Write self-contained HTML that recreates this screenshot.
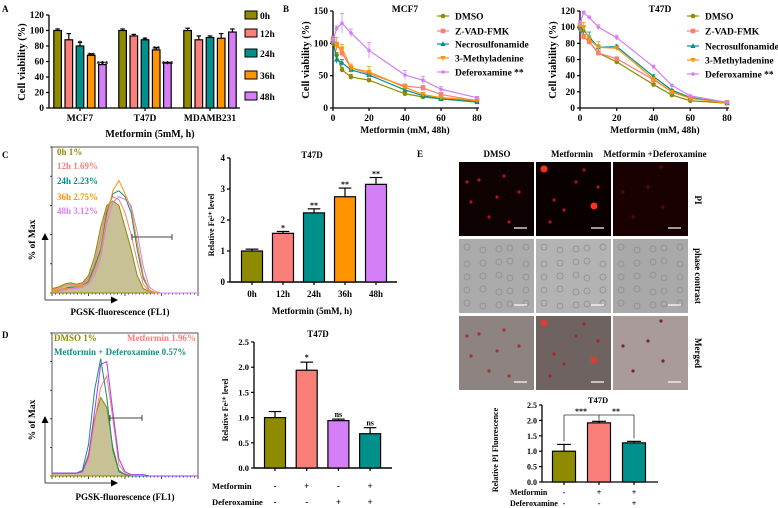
<!DOCTYPE html>
<html><head><meta charset="utf-8"><style>
html,body{margin:0;padding:0;background:#fff;}
svg{display:block;font-family:"Liberation Serif",serif;font-weight:bold;}
</style></head><body>
<svg id="fig" width="778" height="508" viewBox="0 0 778 508" xmlns="http://www.w3.org/2000/svg">
<g fill="#000" font-size="10">
<text x="2" y="12" font-size="9">A</text>
<text x="283" y="12" font-size="9">B</text>
<text x="2" y="158" font-size="9">C</text>
<text x="2" y="338" font-size="9">D</text>
<text x="417" y="157" font-size="9">E</text>
<text transform="translate(25,62) rotate(-90)" text-anchor="middle" font-size="10.5">Cell  viability (%)</text>
<text x="150" y="137" text-anchor="middle" font-size="10">Metformin  (5mM, h)</text>
<text transform="translate(309,60) rotate(-90)" text-anchor="middle" font-size="10.5">Cell  viability (%)</text>
<text x="405" y="12" text-anchor="middle" font-size="9.5">MCF7</text>
<text x="405" y="133" text-anchor="middle" font-size="9.5">Metformin (mM, 48h)</text>
<text transform="translate(556,60) rotate(-90)" text-anchor="middle" font-size="10.5">Cell  viability (%)</text>
<text x="660" y="12" text-anchor="middle" font-size="9.5">T47D</text>
<text x="655" y="133" text-anchor="middle" font-size="9.5">Metformin (mM, 48h)</text>
<text transform="translate(35,240) rotate(-90)" text-anchor="middle" font-size="9.5">% of  Max</text>
<text x="120" y="315" text-anchor="middle" font-size="9">PGSK-fluorescence (FL1)</text>
<text x="312" y="158" text-anchor="middle" font-size="9">T47D</text>
<text transform="translate(214,225) rotate(-90)" text-anchor="middle" font-size="8">Relative Fe²⁺ level</text>
<text x="312" y="314" text-anchor="middle" font-size="9">Metformin (5mM, h)</text>
<text transform="translate(35,420) rotate(-90)" text-anchor="middle" font-size="9.5">% of  Max</text>
<text x="125" y="500" text-anchor="middle" font-size="9">PGSK-fluorescence (FL1)</text>
<text x="318" y="337" text-anchor="middle" font-size="9">T47D</text>
<text transform="translate(228,410) rotate(-90)" text-anchor="middle" font-size="8">Relative Fe²⁺ level</text>
<text x="497" y="157" text-anchor="middle" font-size="9">DMSO</text>
<text x="572" y="157" text-anchor="middle" font-size="9">Metformin</text>
<text x="655" y="157" text-anchor="middle" font-size="9">Metformin +Deferoxamine</text>
<text transform="translate(695,200) rotate(90)" text-anchor="middle" font-size="9">PI</text>
<text transform="translate(695,276) rotate(90)" text-anchor="middle" font-size="9">phase contrast</text>
<text transform="translate(695,353) rotate(90)" text-anchor="middle" font-size="9">Merged</text>
<text x="598" y="403" text-anchor="middle" font-size="8.5">T47D</text>
<text transform="translate(498,450) rotate(-90)" text-anchor="middle" font-size="8">Relative  PI Fluorescence</text>
</g>
<g id="root"></g>
</svg>
<script>
// ---- Panel A data ----
const aGroups = ['MCF7','T47D','MDAMB231'];
const aSeries = ['0h','12h','24h','36h','48h'];
const aMCF7 = [100, 88, 80, 68, 56];
const aT47D = [100, 93, 88, 75, 58];
const aMDA = [100, 88, 91, 90, 98];
const aErrMCF7 = [2, 8, 5, 2, 3];
const aErrT47D = [2, 2, 2, 3, 1];
const aErrMDA = [3, 5, 2, 6, 4];
const aStarsMCF7 = ['', '', '*', '**', '***'];
const aStarsT47D = ['', '', '*', '**', '***'];
const aStarsMDA = ['', '', '', '', ''];
const aTicks = [0, 20, 40, 60, 80, 100, 120];
// ---- Panel B data ----
const bDoses = [0, 2, 5, 10, 20, 40, 50, 60, 80];
const bNames = ['DMSO','Z-VAD-FMK','Necrosulfonamide','3-Methyladenine','Deferoxamine'];
const bMcfDMSO = [100, 82, 59, 48, 43, 22, 17, 14, 11];
const bMcfZVAD = [105, 99, 85, 62, 53, 34, 31, 21, 11];
const bMcfNecro = [105, 75, 70, 59, 51, 28, 19, 14, 9];
const bMcfMA = [105, 95, 92, 62, 56, 32, 21, 16, 12];
const bMcfDef = [105, 123, 131, 116, 89, 51, 43, 29, 16];
const bT47DMSO = [98, 88, 82, 68, 57, 29, 16, 9, 6];
const bT47ZVAD = [100, 88, 82, 68, 61, 35, 20, 12, 7];
const bT47Necro = [100, 96, 88, 75, 76, 39, 22, 13, 6];
const bT47MA = [102, 100, 85, 75, 74, 36, 20, 12, 6];
const bT47Def = [105, 118, 112, 100, 87, 51, 28, 15, 7];
const bXTicks = [0, 20, 40, 60, 80];
const bMcfYTicks = [0, 50, 100, 150];
const bT47YTicks = [0, 20, 40, 60, 80, 100, 120];
// ---- Panel C data ----
const cHistOlive = [3,4,6,7,6,7,12,25,45,60,63,60,45,30,12,3,1,0,0,0,0,0,0,0,0];
const cHistSalmon = [2,3,5,6,5,6,10,20,38,58,66,64,55,40,22,6,1,0,0,0,0,0,0,0,0];
const cHistTeal = [1,2,3,4,4,5,8,18,30,55,68,70,66,55,30,10,2,0,0,0,0,0,0,0,0];
const cHistOrange = [1,2,3,3,4,5,7,15,28,52,70,77,68,58,35,12,2,0,0,0,0,0,0,0,0];
const cHistViolet = [1,1,2,3,3,4,6,12,24,48,62,66,64,60,42,18,4,1,0,0,0,0,0,0,0];
const cBarCats = ['0h','12h','24h','36h','48h'];
const cBarVals = [1.0, 1.57, 2.23, 2.75, 3.15];
const cBarErr = [0.06, 0.06, 0.13, 0.28, 0.22];
const cBarStars = ['', '*', '**', '**', '**'];
const cBarTicks = [0, 1, 2, 3, 4];
// ---- Panel D data ----
const dHistOlive = [2,2,2,2,2,3,15,40,55,48,20,4,1,0,0,0,0,0,0,0,0,0,0,0,0];
const dHistSalmon = [2,2,2,2,2,3,12,38,62,70,40,8,2,0,0,0,0,0,0,0,0,0,0,0,0];
const dHistTeal = [2,2,2,2,2,4,22,60,82,55,18,3,1,0,0,0,0,0,0,0,0,0,0,0,0];
const dHistViolet = [2,2,2,2,2,3,14,45,78,80,45,12,3,1,1,1,0,0,0,0,0,0,0,0,0];
const dBarVals = [1.0, 1.94, 0.94, 0.68];
const dBarErr = [0.12, 0.16, 0.03, 0.12];
const dBarStars = ['', '*', 'ns', 'ns'];
const dMet = ['-', '+', '-', '+'];
const dDef = ['-', '-', '+', '+'];
const dBarTicks = [0, 0.5, 1.0, 1.5, 2.0, 2.5];
// ---- Panel E data ----
const eBarVals = [1.0, 1.92, 1.27];
const eBarErr = [0.22, 0.05, 0.05];
const eMet = ['-', '+', '+'];
const eDef = ['-', '-', '+'];
const eBarTicks = [0, 0.5, 1.0, 1.5, 2.0, 2.5];

const NS = 'http://www.w3.org/2000/svg';
const root = document.getElementById('root');
const COL = ['#8e8b00', '#fa7f78', '#00908c', '#ff9300', '#d47ef7'];
function el(tag, attrs, name) {
  const e = document.createElementNS(NS, tag);
  for (const k in attrs) e.setAttribute(k, attrs[k]);
  
  
  root.appendChild(e);
  return e;
}
function txt(x, y, s, size, anchor, fill, name) {
  const t = el('text', {x: x, y: y, 'font-size': size, 'text-anchor': anchor || 'middle', fill: fill || '#000'}, name);
  t.textContent = s;
  return t;
}
function line(x1, y1, x2, y2, name, w, c) {
  return el('line', {x1: x1, y1: y1, x2: x2, y2: y2, stroke: c || '#000', 'stroke-width': w || 1}, name);
}
function yAxis(x, y0, y1, vmax, ticks, labels, name, size) {
  line(x, y0, x, y1, name + '-line', 1.3);
  ticks.forEach((t, i) => {
    const y = y0 - (y0 - y1) * t / vmax;
    line(x - 3, y, x, y, name + '-tick', 1.2);
    txt(x - 5, y + 3, labels[i], size || 9, 'end', '#000', name + '-tick-label');
  });
}
function bar(cx, w, y0, scale, v, err, color, name) {
  const top = y0 - v * scale;
  const eTop = top - err * scale;
  line(cx, top, cx, eTop, name + '-error', 1.2);
  line(cx - w * 0.3, eTop, cx + w * 0.3, eTop, name + '-error-cap', 1.2);
  el('rect', {x: cx - w / 2, y: top, width: w, height: v * scale, fill: color, stroke: '#000', 'stroke-width': 1.2}, name);
  return eTop;
}

// ===== Panel A =====
(function () {
  const y0 = 108, sc = 93 / 120, x0 = 49;
  const vals = [aMCF7, aT47D, aMDA], errs = [aErrMCF7, aErrT47D, aErrMDA], stars = [aStarsMCF7, aStarsT47D, aStarsMDA];
  const gx = [80, 145, 210];
  yAxis(x0, y0, y0 - 120 * sc, 120, aTicks, aTicks.map(String), 'a-y-axis', 9.5);
  line(x0, y0, 240, y0, 'a-x-axis', 1.3);
  aGroups.forEach((g, gi) => {
    line(gx[gi], y0, gx[gi], y0 + 3, 'a-x-tick', 1.2);
    txt(gx[gi], y0 + 13, g, 9.5, 'middle', '#000', 'a-x-tick-label');
    vals[gi].forEach((v, i) => {
      const cx = gx[gi] + (i - 2) * 11.2;
      const t = bar(cx, 7.6, y0, sc, v, errs[gi][i], COL[i], 'a-bar-' + g + '-' + aSeries[i]);
      if (stars[gi][i]) txt(cx, t + 4, stars[gi][i], 8, 'middle', '#000', 'a-significance');
    });
  });
  aSeries.forEach((s, i) => {
    const y = [16, 34, 54, 76, 97][i];
    el('rect', {x: 245, y: y - 5, width: 12, height: 8, fill: COL[i], stroke: '#000', 'stroke-width': 1}, 'a-legend-swatch');
    txt(260, y + 3, s, 9.5, 'start', '#000', 'a-legend-label');
  });
})();

// ===== Panel B =====
function markerAt(x, y, k, c, name) {
  if (k === 0) el('circle', {cx: x, cy: y, r: 2.3, fill: c}, name);
  else if (k === 1) el('rect', {x: x - 2.3, y: y - 2.3, width: 4.6, height: 4.6, fill: c}, name);
  else if (k === 2) el('polygon', {points: `${x},${y - 2.8} ${x + 2.6},${y + 2} ${x - 2.6},${y + 2}`, fill: c}, name);
  else if (k === 3) el('polygon', {points: `${x},${y + 2.8} ${x + 2.6},${y - 2} ${x - 2.6},${y - 2}`, fill: c}, name);
  else el('circle', {cx: x, cy: y, r: 1.8, fill: c}, name);
}
function lineChart(p) {
  const xs = v => p.x0 + (p.x1 - p.x0) * v / 80;
  const ys = v => p.y0 - (p.y0 - p.y1) * v / p.vmax;
  yAxis(p.x0, p.y0, p.y1, p.vmax, p.yticks, p.yticks.map(String), p.id + '-y-axis', 9.5);
  line(p.x0, p.y0, p.x1 + 2, p.y0, p.id + '-x-axis', 1.3);
  bXTicks.forEach(t => {
    line(xs(t), p.y0, xs(t), p.y0 + 3, p.id + '-x-tick', 1.2);
    txt(xs(t), p.y0 + 13, String(t), 9.5, 'middle', '#000', p.id + '-x-tick-label');
  });
  p.series.forEach((s, k) => {
    const pts = s.map((v, i) => xs(bDoses[i]) + ',' + ys(v)).join(' ');
    el('polyline', {points: pts, fill: 'none', stroke: COL[k], 'stroke-width': 1.2}, p.id + '-line-' + bNames[k]);
    s.forEach((v, i) => {
      const e = p.errs[k][i] * (p.y0 - p.y1) / p.vmax;
      if (e > 0) {
        line(xs(bDoses[i]), ys(v) - e, xs(bDoses[i]), ys(v) + e, p.id + '-error', 0.8, COL[k]);
        line(xs(bDoses[i]) - 2, ys(v) - e, xs(bDoses[i]) + 2, ys(v) - e, p.id + '-error-cap', 0.8, COL[k]);
      }
      markerAt(xs(bDoses[i]), ys(v), k, COL[k], p.id + '-point-' + bNames[k]);
    });
  });
  bNames.forEach((n, k) => {
    const y = p.legY[k];
    line(p.legX - 6, y, p.legX + 6, y, p.id + '-legend-line', 1.2, COL[k]);
    markerAt(p.legX, y, k, COL[k], p.id + '-legend-marker');
    txt(p.legX + 12, y + 3.5, n + (k === 4 ? ' **' : ''), 9.5, 'start', '#000', p.id + '-legend-label');
  });
}
lineChart({id: 'b1', x0: 333, x1: 477, y0: 108, y1: 11, vmax: 150, yticks: bMcfYTicks,
  series: [bMcfDMSO, bMcfZVAD, bMcfNecro, bMcfMA, bMcfDef],
  errs: [[4,4,4,4,3,2,2,2,1],[5,10,6,4,4,3,4,3,2],[4,6,5,4,3,2,2,2,1],[5,6,6,6,8,3,3,2,1],[6,4,15,6,12,7,6,4,2]],
  legX: 443, legY: [16, 31, 44, 58, 72]});
lineChart({id: 'b2', x0: 580, x1: 727, y0: 108, y1: 11, vmax: 120, yticks: bT47YTicks,
  series: [bT47DMSO, bT47ZVAD, bT47Necro, bT47MA, bT47Def],
  errs: [[4,3,3,2,2,2,1,1,1],[4,3,4,3,2,2,1,1,1],[4,5,6,3,2,2,1,1,1],[5,6,5,7,2,2,1,1,1],[3,2,2,3,3,2,1,1,1]],
  legX: 693, legY: [16, 31, 46, 60, 74]});

// ===== Flow histograms =====
function flow(p) {
  el('rect', {x: p.x0, y: p.top, width: p.x1 - p.x0, height: p.y0 - p.top, fill: 'none', stroke: '#555', 'stroke-width': 1}, p.id + '-frame');
  for (let i = 0; i <= 40; i++) {
    const x = p.x0 + (p.x1 - p.x0) * i / 40;
    line(x, p.y0, x, p.y0 + (i % 10 === 0 ? 3 : 1.5), p.id + '-x-minor-tick', 0.7);
  }
  for (let i = 0; i <= 5; i++) {
    const y = p.y0 - (p.y0 - p.top) * i / 5;
    line(p.x0 - 2, y, p.x0, y, p.id + '-y-minor-tick', 0.7);
  }
  const step = (p.x1 - p.x0) / 24;
  const h = p.y0 - p.top;
  p.hists.forEach((arr, k) => {
    const pts = arr.map((v, i) => (p.x0 + step * i) + ',' + (p.y0 - h * v / 100));
    if (k === 0) {
      el('polygon', {points: p.x0 + ',' + p.y0 + ' ' + pts.join(' ') + ' ' + p.x1 + ',' + p.y0, fill: '#c9c196', stroke: p.cols[0], 'stroke-width': 1}, p.id + '-hist-filled');
    } else {
      el('polyline', {points: pts.join(' '), fill: 'none', stroke: p.cols[k], 'stroke-width': 1}, p.id + '-hist-' + k);
    }
  });
  line(p.gx0, p.gy, p.gx1, p.gy, p.id + '-gate', 1, '#444');
  line(p.gx0, p.gy - 3, p.gx0, p.gy + 3, p.id + '-gate-end', 1, '#444');
  line(p.gx1, p.gy - 3, p.gx1, p.gy + 3, p.id + '-gate-end', 1, '#444');
  line(45, p.y0 + 7, 45, p.arrowTop + 6, p.id + '-y-arrow', 1, '#444');
  el('polygon', {points: `45,${p.arrowTop} 41.5,${p.arrowTop + 7} 48.5,${p.arrowTop + 7}`, fill: '#000'}, p.id + '-y-arrowhead');
  line(45, p.y0 + 7, 112, p.y0 + 7, p.id + '-x-arrow', 1, '#444');
  el('polygon', {points: `118,${p.y0 + 7} 111,${p.y0 + 3.5} 111,${p.y0 + 10.5}`, fill: '#000'}, p.id + '-x-arrowhead');
}
flow({id: 'c-flow', x0: 52, x1: 198, top: 147, y0: 293, gx0: 132, gx1: 172, gy: 237, arrowTop: 233,
  hists: [cHistOlive, cHistSalmon, cHistTeal, cHistOrange, cHistViolet], cols: COL});
[['0h  1%', 155], ['12h 1.69%', 169], ['24h 2.23%', 184], ['36h 2.75%', 200], ['48h 3.12%', 214]].forEach((l, i) => {
  txt(57, l[1], l[0], 9, 'start', COL[i], 'c-flow-legend-label');
});
flow({id: 'd-flow', x0: 52, x1: 198, top: 333, y0: 476, gx0: 110, gx1: 142, gy: 418, arrowTop: 416,
  hists: [dHistOlive, dHistSalmon, dHistTeal, dHistViolet], cols: [COL[0], COL[1], '#1a8c80', '#9a40f0']});
txt(54, 341, 'DMSO  1%', 9, 'start', COL[0], 'd-flow-legend-dmso');
txt(127, 341, 'Metformin  1.96%', 9, 'start', COL[1], 'd-flow-legend-metformin');
txt(54, 355, 'Metformin + Deferoxamine 0.57%', 9, 'start', '#1a8c80', 'd-flow-legend-met-def');

// ===== Bar charts C, D, E =====
(function () {
  const y0 = 282, sc = 31, x0 = 230;
  yAxis(x0, y0, y0 - 4 * sc, 4, cBarTicks, cBarTicks.map(String), 'c-bar-y-axis', 9);
  line(x0, y0, 397, y0, 'c-bar-x-axis', 1.5);
  cBarCats.forEach((c, i) => {
    const cx = 252 + i * 31;
    line(cx, y0, cx, y0 + 3, 'c-bar-x-tick', 1.2);
    txt(cx, y0 + 15, c, 9, 'middle', '#000', 'c-bar-x-label');
    const t = bar(cx, 21, y0, sc, cBarVals[i], cBarErr[i], COL[i], 'c-bar-' + c);
    if (cBarStars[i]) txt(cx, t - 1, cBarStars[i], 8, 'middle', '#000', 'c-bar-significance');
  });
})();
(function () {
  const y0 = 468, sc = 50.4, x0 = 254;
  yAxis(x0, y0, y0 - 2.5 * sc, 2.5, dBarTicks, dBarTicks.map(v => v.toFixed(1)), 'd-bar-y-axis', 8.5);
  line(x0, y0, 392, y0, 'd-bar-x-axis', 1.5);
  const cols = [COL[0], COL[1], COL[4], COL[2]];
  dBarVals.forEach((v, i) => {
    const cx = 275 + i * 31.7;
    line(cx, y0, cx, y0 + 3, 'd-bar-x-tick', 1.2);
    const t = bar(cx, 21, y0, sc, v, dBarErr[i], cols[i], 'd-bar-' + i);
    if (dBarStars[i]) txt(cx, t - 2, dBarStars[i], 8, 'middle', '#000', 'd-bar-significance');
    txt(cx, 489, dMet[i], 9, 'middle', '#000', 'd-bar-metformin-sign');
    txt(cx, 505, dDef[i], 9, 'middle', '#000', 'd-bar-deferoxamine-sign');
  });
  txt(212, 489, 'Metformin', 8.5, 'start', '#000', 'd-bar-row-metformin');
  txt(212, 505, 'Deferoxamine', 8.5, 'start', '#000', 'd-bar-row-deferoxamine');
})();
(function () {
  const y0 = 482, sc = 30.8, x0 = 542;
  yAxis(x0, y0, y0 - 2.5 * sc, 2.5, eBarTicks, eBarTicks.map(v => v.toFixed(1)), 'e-bar-y-axis', 8);
  line(x0, y0, 658, y0, 'e-bar-x-axis', 1.3);
  const cols = [COL[0], COL[1], COL[2]];
  eBarVals.forEach((v, i) => {
    const cx = 564 + i * 35;
    line(cx, y0, cx, y0 + 3, 'e-bar-x-tick', 1.2);
    bar(cx, 23, y0, sc, v, eBarErr[i], cols[i], 'e-bar-' + i);
    txt(cx, 495, eMet[i], 8.5, 'middle', '#000', 'e-bar-metformin-sign');
    txt(cx, 506, eDef[i], 8.5, 'middle', '#000', 'e-bar-deferoxamine-sign');
  });
  const by = 415;
  line(564, by, 634, by, 'e-bracket', 0.8, '#333');
  line(564, by, 564, y0 - (eBarVals[0] + eBarErr[0]) * sc - 3, 'e-bracket-leg', 0.8, '#333');
  line(599, by, 599, y0 - (eBarVals[1] + eBarErr[1]) * sc - 1, 'e-bracket-leg', 0.8, '#333');
  line(634, by, 634, y0 - (eBarVals[2] + eBarErr[2]) * sc - 3, 'e-bracket-leg', 0.8, '#333');
  txt(581, 414, '***', 8, 'middle', '#000', 'e-significance');
  txt(616, 414, '**', 8, 'middle', '#000', 'e-significance');
  txt(510, 495, 'Metformin', 8, 'start', '#000', 'e-row-metformin');
  txt(510, 506, 'Deferoxamine', 8, 'start', '#000', 'e-row-deferoxamine');
})();

// ===== Panel E images =====
const eColX = [459, 536, 613];
const eRowY = [162, 239, 316];
const eFills = [['#0e0101', '#0b0000', '#1a0101'], ['#ababab', '#b3b3b3', '#a9a9a9'], ['#8d8380', '#6f6361', '#a99b99']];
const eDots = [
  [[20, 18], [45, 14], [12, 40], [60, 30], [30, 55], [50, 60], [8, 20], [38, 35]],
  [[8, 7], [58, 44], [28, 48], [40, 20], [18, 38], [48, 8], [14, 60], [62, 25]],
  [[48, 5], [20, 55], [50, 45], [10, 30], [35, 25]]
];
eRowY.forEach((y, r) => {
  eColX.forEach((x, c) => {
    el('rect', {x: x, y: y, width: 75, height: 74, fill: eFills[r][c]}, 'e-image-r' + r + '-c' + c);
    if (r !== 1) {
      eDots[c].forEach((d, j) => {
        const big = (c === 1 && (j === 0 || j === 1));
        el('circle', {cx: x + d[0], cy: y + d[1], r: big ? 3.5 : 1.6, fill: big ? '#ff3020' : (c === 2 ? '#5a0808' : '#b01515'), opacity: r === 2 ? 0.75 : 1}, 'e-cell-dot');
      });
    } else {
      for (let j = 0; j < 25; j++) {
        const cx = x + 8 + (j % 5) * 14 + ((j * 7) % 5);
        const cy = y + 8 + Math.floor(j / 5) * 14 + ((j * 3) % 4);
        el('circle', {cx: cx, cy: cy, r: 3, fill: 'none', stroke: '#8c8c8c', 'stroke-width': 0.8}, 'e-phase-cell');
      }
    }
    line(x + 55, y + 66, x + 68, y + 66, 'e-scale-bar', 1.2, '#fff');
  });
});
</script>
</body></html>
